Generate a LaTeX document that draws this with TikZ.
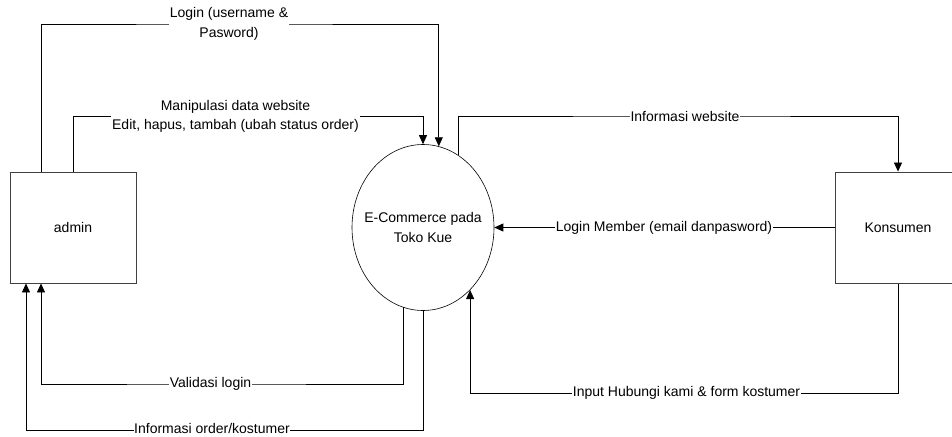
\documentclass[tikz,border=0pt]{standalone}
\usepackage{fontspec}
\setmainfont{Liberation Sans}
\usetikzlibrary{arrows.meta,backgrounds,shapes.geometric}
\begin{document}
\begin{tikzpicture}[x=1pt,y=-1pt,
  font=\fontsize{14}{19.5}\selectfont,
  entity/.style={draw=black!75, line width=0.9pt, rectangle, minimum width=126pt, minimum height=111pt, inner sep=0pt},
  proc/.style={draw=black, line width=0.6pt, ellipse, minimum width=142pt, minimum height=166pt, inner sep=0pt},
  lbl/.style={fill=white, inner sep=1pt, align=center},
  flow/.style={draw=black, line width=0.8pt, -{Triangle[length=9pt,width=8pt]}}]
\useasboundingbox (0,0) rectangle (952,436);
\clip (0,0) rectangle (952,436);

\node[entity] (admin) at (73,227.5) {admin};
\node[entity] (kons) at (898,227.5) {Konsumen};
\node[proc] (e) at (423,227.5) {};
\node[align=center, inner sep=0pt] (etxt) at (e.center) {E-Commerce pada\\Toko Kue};

\node[lbl] (lg)  at (229,24)    {Login (username \&\\Pasword)};
\node[lbl] (man) at (235.5,116.5) {Manipulasi data website\\Edit, hapus, tambah (ubah status order)};
\node[lbl] (inf) at (685,116)   {Informasi website};
\node[lbl] (lm)  at (664,227.5) {Login Member (email danpasword)};
\node[lbl] (inp) at (686.5,393) {Input Hubungi kami \& form kostumer};
\node[lbl] (val) at (210.5,384) {Validasi login};
\node[lbl, inner sep=0.5pt] (ord) at (212,428.5) {Informasi order/kostumer};

\begin{scope}[on background layer]
  \fill[white] (0,0) rectangle (952,436);
  \draw[flow] ([xshift=-32pt]admin.north) |- (lg.center) -| (e.79.5);
  \draw[flow] (admin.north) |- (man.center) -| (e.north);
  \draw[flow] (e.64.1) |- (inf.center) -| (kons.north);
  \draw[flow] (kons.west) -- (lm.center) -- (e.east);
  \draw[flow] (kons.south) |- (inp.center) -| (e.-53.9);
  \draw[flow] (e.-104.8) |- (val.center) -| ([xshift=-32pt]admin.south);
  \draw[flow] (e.south) |- ([yshift=-2pt]ord.center) -| ([xshift=-47pt]admin.south);
\end{scope}
\end{tikzpicture}
\end{document}
